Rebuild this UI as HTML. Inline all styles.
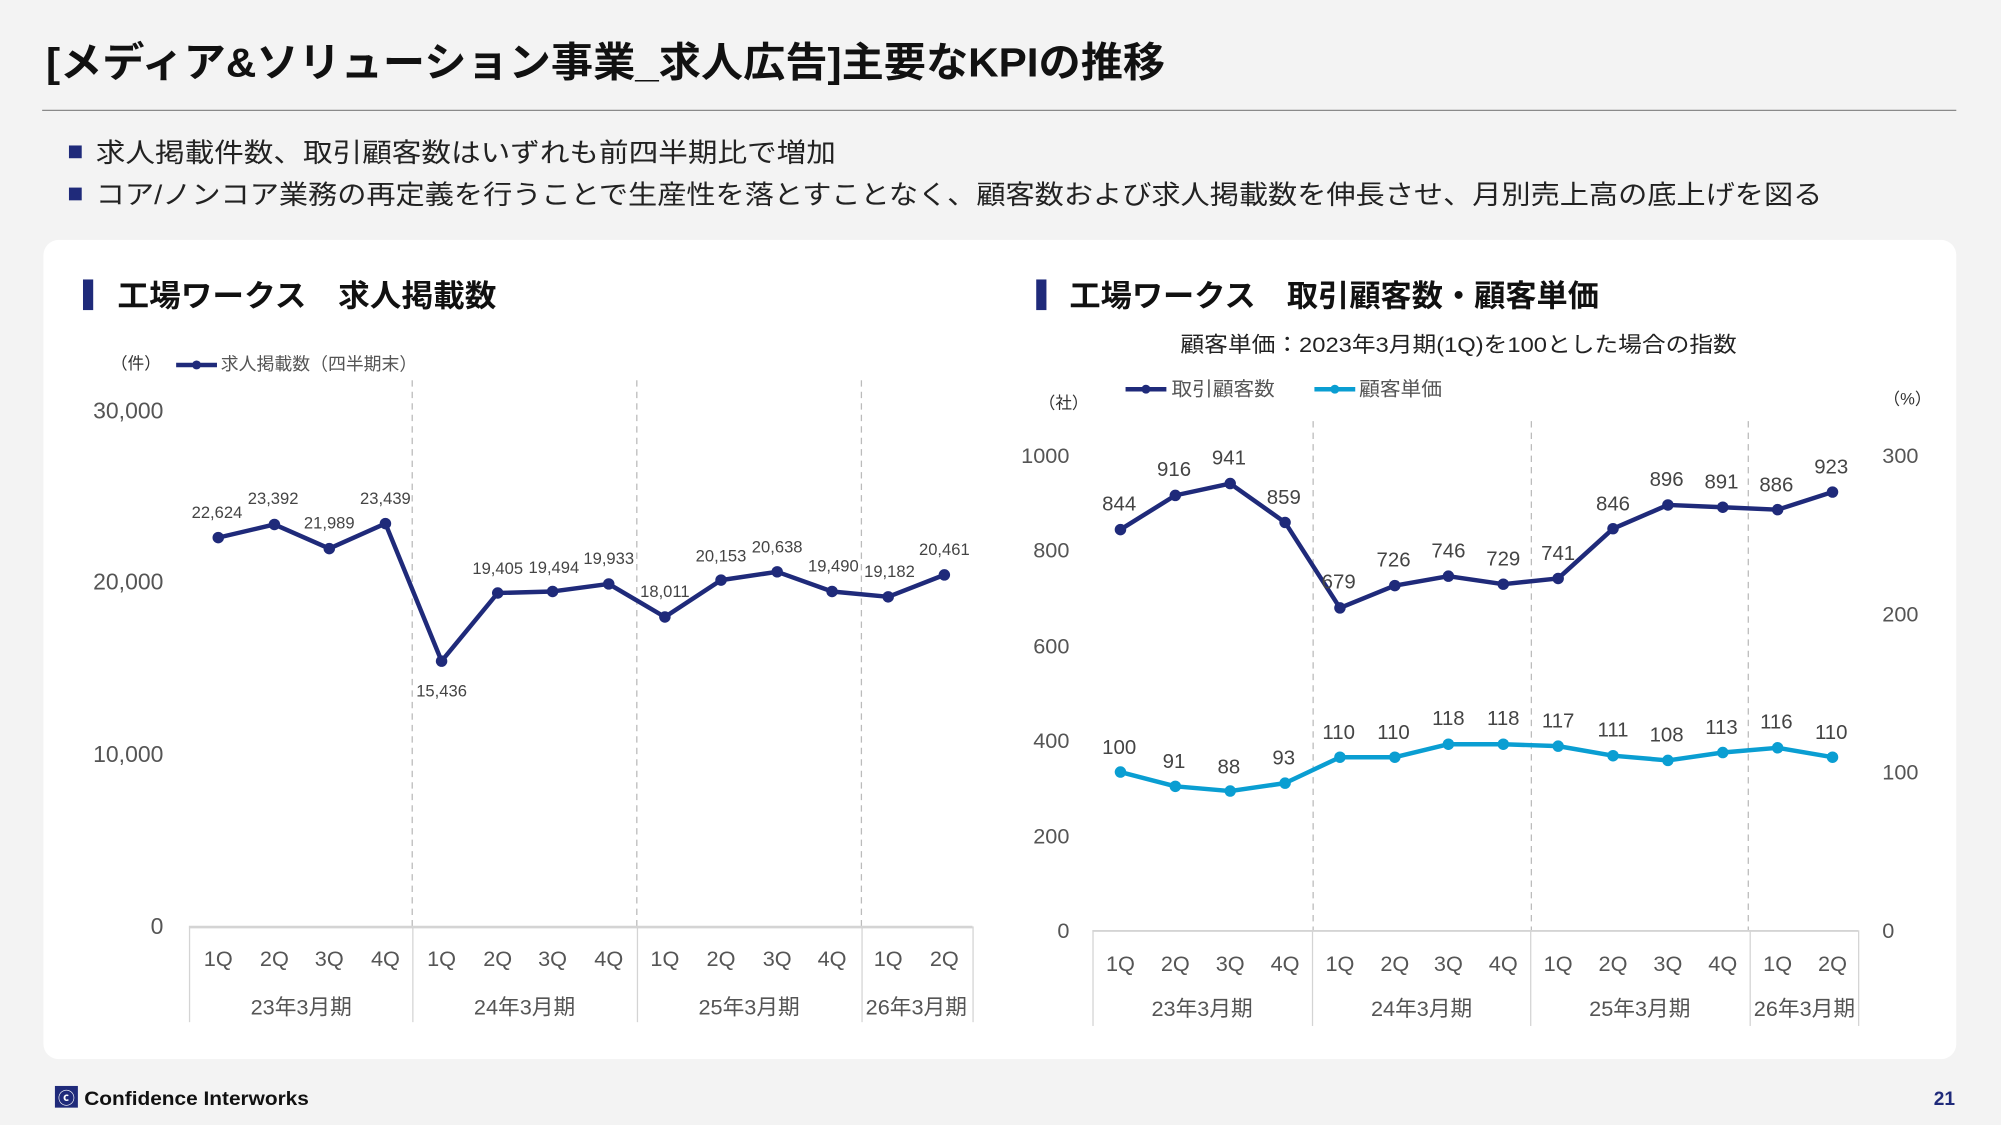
<!DOCTYPE html>
<html><head><meta charset="utf-8"><style>
html,body{margin:0;padding:0;background:#f3f3f3;}
svg{display:block;font-family:"Liberation Sans","Noto Sans CJK JP",sans-serif;}
</style></head><body>
<svg width="2001" height="1125" viewBox="0 0 1568 881.6" xmlns="http://www.w3.org/2000/svg">
<rect x="0" y="0" width="1568" height="882" fill="#f3f3f3"/>
<text x="36" y="60" font-size="32" font-weight="bold" fill="#111" textLength="877" lengthAdjust="spacingAndGlyphs">[メディア&amp;ソリューション事業_求人広告]主要なKPIの推移</text>
<line x1="33" y1="86.5" x2="1533" y2="86.5" stroke="#8a8a8a" stroke-width="1"/>
<rect x="54" y="114" width="10" height="10" fill="#1f2a7a"/>
<text x="75" y="127" font-size="21" fill="#222" textLength="580" lengthAdjust="spacingAndGlyphs">求人掲載件数、取引顧客数はいずれも前四半期比で増加</text>
<rect x="54" y="147" width="10" height="10" fill="#1f2a7a"/>
<text x="75" y="160" font-size="21" fill="#222" textLength="1353" lengthAdjust="spacingAndGlyphs">コア/ノンコア業務の再定義を行うことで生産性を落とすことなく、顧客数および求人掲載数を伸長させ、月別売上高の底上げを図る</text>
<rect x="34" y="188" width="1499" height="642" rx="12" fill="#fff"/>

<!-- Left chart -->
<rect x="65" y="219" width="8" height="24" fill="#1f2a7a"/>
<text x="92" y="240" font-size="24" font-weight="bold" fill="#111" textLength="297" lengthAdjust="spacingAndGlyphs">工場ワークス　求人掲載数</text>
<text x="87" y="289" font-size="13" fill="#333">（件）</text>
<line x1="138" y1="286" x2="170" y2="286" stroke="#1f2a7a" stroke-width="3.5"/>
<circle cx="154" cy="286" r="3.5" fill="#1f2a7a"/>
<text x="173" y="290" font-size="14" fill="#555">求人掲載数（四半期末）</text>
<g font-size="18" fill="#555" text-anchor="end">
<text x="128" y="328">30,000</text><text x="128" y="462">20,000</text><text x="128" y="597">10,000</text><text x="128" y="732">0</text>
</g>
<g stroke="#bbb" stroke-dasharray="5,4" stroke-width="1">
<line x1="323" y1="298" x2="323" y2="726"/><line x1="499" y1="298" x2="499" y2="726"/><line x1="675" y1="298" x2="675" y2="726"/>
</g>
<line x1="148" y1="726.5" x2="762" y2="726.5" stroke="#d4d4d4" stroke-width="2"/>
<g stroke="#d4d4d4" stroke-width="1">
<line x1="148.5" y1="726" x2="148.5" y2="801"/><line x1="323.5" y1="726" x2="323.5" y2="801"/><line x1="499.5" y1="726" x2="499.5" y2="801"/><line x1="675.5" y1="726" x2="675.5" y2="801"/><line x1="762.5" y1="726" x2="762.5" y2="801"/>
</g>
<g font-size="17" fill="#555" text-anchor="middle">
<text x="171" y="757">1Q</text><text x="215" y="757">2Q</text><text x="258" y="757">3Q</text><text x="302" y="757">4Q</text>
<text x="346" y="757">1Q</text><text x="390" y="757">2Q</text><text x="433" y="757">3Q</text><text x="477" y="757">4Q</text>
<text x="521" y="757">1Q</text><text x="565" y="757">2Q</text><text x="609" y="757">3Q</text><text x="652" y="757">4Q</text>
<text x="696" y="757">1Q</text><text x="740" y="757">2Q</text>
<text x="236" y="795">23年3月期</text><text x="411" y="795">24年3月期</text><text x="587" y="795">25年3月期</text><text x="718" y="795">26年3月期</text>
</g>
<polyline fill="none" stroke="#1f2a7a" stroke-width="3.5" stroke-linejoin="round" points="171,421.3 215,411 258,429.9 302,410.3 346,518.1 390,464.7 433,463.5 477,457.6 521,483.5 565,454.6 609,448.1 652,463.5 696,467.7 740,450.5"/>
<g fill="#1f2a7a">
<circle cx="171" cy="421.3" r="4.5"/><circle cx="215" cy="411" r="4.5"/><circle cx="258" cy="429.9" r="4.5"/><circle cx="302" cy="410.3" r="4.5"/><circle cx="346" cy="518.1" r="4.5"/><circle cx="390" cy="464.7" r="4.5"/><circle cx="433" cy="463.5" r="4.5"/><circle cx="477" cy="457.6" r="4.5"/><circle cx="521" cy="483.5" r="4.5"/><circle cx="565" cy="454.6" r="4.5"/><circle cx="609" cy="448.1" r="4.5"/><circle cx="652" cy="463.5" r="4.5"/><circle cx="696" cy="467.7" r="4.5"/><circle cx="740" cy="450.5" r="4.5"/>
</g>
<g font-size="13" fill="#444" text-anchor="middle">
<text x="170" y="406">22,624</text><text x="214" y="395">23,392</text><text x="258" y="414">21,989</text><text x="302" y="395">23,439</text>
<text x="346" y="546">15,436</text><text x="390" y="450">19,405</text><text x="434" y="449">19,494</text><text x="477" y="442">19,933</text>
<text x="521" y="468">18,011</text><text x="565" y="440">20,153</text><text x="609" y="433">20,638</text><text x="653" y="448">19,490</text><text x="697" y="452">19,182</text><text x="740" y="435">20,461</text>
</g>

<!-- Right chart -->
<rect x="812" y="219" width="8" height="24" fill="#1f2a7a"/>
<text x="838" y="240" font-size="24" font-weight="bold" fill="#111" textLength="415" lengthAdjust="spacingAndGlyphs">工場ワークス　取引顧客数・顧客単価</text>
<text x="925" y="276" font-size="17" fill="#222" textLength="436" lengthAdjust="spacingAndGlyphs">顧客単価：2023年3月期(1Q)を100とした場合の指数</text>
<line x1="882" y1="305" x2="914" y2="305" stroke="#1f2a7a" stroke-width="3.5"/><circle cx="898" cy="305" r="3.5" fill="#1f2a7a"/>
<text x="918" y="310" font-size="15" fill="#555" textLength="81" lengthAdjust="spacingAndGlyphs">取引顧客数</text>
<line x1="1030" y1="305" x2="1062" y2="305" stroke="#0a9ed2" stroke-width="3.5"/><circle cx="1046" cy="305" r="3.5" fill="#0a9ed2"/>
<text x="1065" y="310" font-size="15" fill="#555" textLength="65" lengthAdjust="spacingAndGlyphs">顧客単価</text>
<text x="814" y="320" font-size="13" fill="#333">（社）</text>
<text x="1476" y="317" font-size="13" fill="#333">（%）</text>
<g font-size="17" fill="#555" text-anchor="end">
<text x="838" y="363">1000</text><text x="838" y="437">800</text><text x="838" y="512">600</text><text x="838" y="586">400</text><text x="838" y="661">200</text><text x="838" y="735">0</text>
</g>
<g font-size="17" fill="#555">
<text x="1475" y="363">300</text><text x="1475" y="487">200</text><text x="1475" y="611">100</text><text x="1475" y="735">0</text>
</g>
<g stroke="#bbb" stroke-dasharray="5,4" stroke-width="1">
<line x1="1029" y1="330" x2="1029" y2="729"/><line x1="1200" y1="330" x2="1200" y2="729"/><line x1="1370" y1="330" x2="1370" y2="729"/>
</g>
<line x1="856" y1="729.5" x2="1456" y2="729.5" stroke="#d4d4d4" stroke-width="1.5"/>
<g stroke="#d4d4d4" stroke-width="1">
<line x1="856.5" y1="729" x2="856.5" y2="804"/><line x1="1028.5" y1="729" x2="1028.5" y2="804"/><line x1="1199.5" y1="729" x2="1199.5" y2="804"/><line x1="1371.5" y1="729" x2="1371.5" y2="804"/><line x1="1456.5" y1="729" x2="1456.5" y2="804"/>
</g>
<g font-size="17" fill="#555" text-anchor="middle">
<text x="878" y="761">1Q</text><text x="921" y="761">2Q</text><text x="964" y="761">3Q</text><text x="1007" y="761">4Q</text>
<text x="1050" y="761">1Q</text><text x="1093" y="761">2Q</text><text x="1135" y="761">3Q</text><text x="1178" y="761">4Q</text>
<text x="1221" y="761">1Q</text><text x="1264" y="761">2Q</text><text x="1307" y="761">3Q</text><text x="1350" y="761">4Q</text>
<text x="1393" y="761">1Q</text><text x="1436" y="761">2Q</text>
<text x="942" y="796">23年3月期</text><text x="1114" y="796">24年3月期</text><text x="1285" y="796">25年3月期</text><text x="1414" y="796">26年3月期</text>
</g>
<polyline fill="none" stroke="#1f2a7a" stroke-width="3.5" stroke-linejoin="round" points="878,415 921,388.2 964,378.9 1007,409.4 1050,476.4 1093,458.9 1135,451.5 1178,457.8 1221,453.3 1264,414.3 1307,395.7 1350,397.5 1393,399.4 1436,385.6"/>
<g fill="#1f2a7a">
<circle cx="878" cy="415" r="4.5"/><circle cx="921" cy="388.2" r="4.5"/><circle cx="964" cy="378.9" r="4.5"/><circle cx="1007" cy="409.4" r="4.5"/><circle cx="1050" cy="476.4" r="4.5"/><circle cx="1093" cy="458.9" r="4.5"/><circle cx="1135" cy="451.5" r="4.5"/><circle cx="1178" cy="457.8" r="4.5"/><circle cx="1221" cy="453.3" r="4.5"/><circle cx="1264" cy="414.3" r="4.5"/><circle cx="1307" cy="395.7" r="4.5"/><circle cx="1350" cy="397.5" r="4.5"/><circle cx="1393" cy="399.4" r="4.5"/><circle cx="1436" cy="385.6" r="4.5"/>
</g>
<polyline fill="none" stroke="#0a9ed2" stroke-width="3.5" stroke-linejoin="round" points="878,605 921,616.2 964,619.9 1007,613.7 1050,593.4 1093,593.4 1135,583.2 1178,583.2 1221,584.7 1264,592.2 1307,595.9 1350,589.7 1393,586 1436,593.4"/>
<g fill="#0a9ed2">
<circle cx="878" cy="605" r="4.5"/><circle cx="921" cy="616.2" r="4.5"/><circle cx="964" cy="619.9" r="4.5"/><circle cx="1007" cy="613.7" r="4.5"/><circle cx="1050" cy="593.4" r="4.5"/><circle cx="1093" cy="593.4" r="4.5"/><circle cx="1135" cy="583.2" r="4.5"/><circle cx="1178" cy="583.2" r="4.5"/><circle cx="1221" cy="584.7" r="4.5"/><circle cx="1264" cy="592.2" r="4.5"/><circle cx="1307" cy="595.9" r="4.5"/><circle cx="1350" cy="589.7" r="4.5"/><circle cx="1393" cy="586" r="4.5"/><circle cx="1436" cy="593.4" r="4.5"/>
</g>
<g font-size="16" fill="#444" text-anchor="middle">
<text x="877" y="400">844</text><text x="920" y="373">916</text><text x="963" y="364">941</text><text x="1006" y="395">859</text>
<text x="1049" y="461">679</text><text x="1092" y="444">726</text><text x="1135" y="437">746</text><text x="1178" y="443">729</text><text x="1221" y="439">741</text>
<text x="1264" y="400">846</text><text x="1306" y="381">896</text><text x="1349" y="383">891</text><text x="1392" y="385">886</text><text x="1435" y="371">923</text>
<text x="877" y="591">100</text><text x="920" y="602">91</text><text x="963" y="606">88</text><text x="1006" y="599">93</text>
<text x="1049" y="579">110</text><text x="1092" y="579">110</text><text x="1135" y="568">118</text><text x="1178" y="568">118</text><text x="1221" y="570">117</text>
<text x="1264" y="577">111</text><text x="1306" y="581">108</text><text x="1349" y="575">113</text><text x="1392" y="571">116</text><text x="1435" y="579">110</text>
</g>

<!-- Footer -->
<rect x="43" y="851" width="18" height="17" fill="#1f2a7a"/>
<text x="52" y="865" font-size="13" font-weight="bold" fill="#fff" text-anchor="middle">ⓒ</text>
<text x="66" y="866" font-size="15" font-weight="bold" fill="#111" textLength="176" lengthAdjust="spacingAndGlyphs">Confidence Interworks</text>
<text x="1532" y="866" font-size="15" font-weight="bold" fill="#1f2a7a" text-anchor="end">21</text>
</svg>
</body></html>
